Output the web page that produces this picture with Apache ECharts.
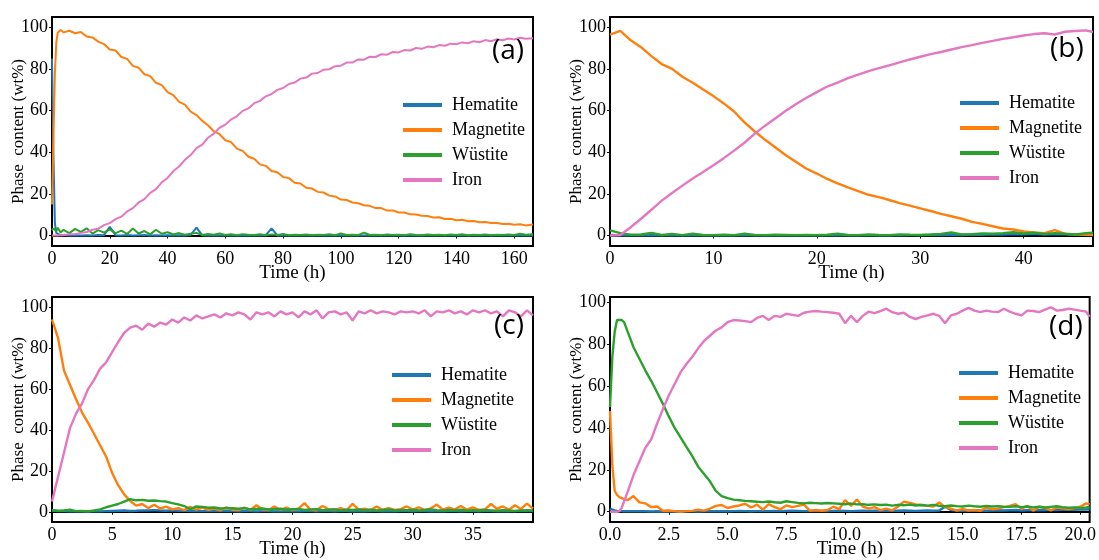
<!DOCTYPE html>
<html>
<head>
<meta charset="utf-8">
<title>Phase content vs time</title>
<script src="https://cdn.jsdelivr.net/npm/echarts@6/dist/echarts.min.js"></script>
<style>
  html, body { margin: 0; padding: 0; background: #fff; }
  #chart { width: 1099px; height: 560px; }
</style>
</head>
<body>
<div id="chart"></div>
<script>
// phases and the matplotlib tab10 colours used for them
var phases = ['Hematite', 'Magnetite', 'Wüstite', 'Iron'];
var colors = ['#1f77b4', '#ff7f0e', '#2ca02c', '#e377c2'];
var panelLabels = ['(a)', '(b)', '(c)', '(d)'];

var yTicks = [0, 20, 40, 60, 80, 100];
var xTicksA = [0, 20, 40, 60, 80, 100, 120, 140, 160];
var xTicksB = [0, 10, 20, 30, 40];
var xTicksC = [0, 5, 10, 15, 20, 25, 30, 35];
var xTicksD = [0, 2.5, 5, 7.5, 10, 12.5, 15, 17.5, 20];

// ---- panel (a) ----
var timeA = [0, 0.5, 1, 1.5, 2, 3, 4, 6, 8, 10,
  12, 14, 16, 18, 20, 22, 24, 26, 28, 30,
  32, 34, 36, 38, 40, 42, 44, 46, 48, 50,
  52, 54, 56, 58, 60, 62, 64, 66, 68, 70,
  72, 74, 76, 78, 80, 82, 84, 86, 88, 90,
  92, 94, 96, 98, 100, 102, 104, 106, 108, 110,
  112, 114, 116, 118, 120, 122, 124, 126, 128, 130,
  132, 134, 136, 138, 140, 142, 144, 146, 148, 150,
  152, 154, 156, 158, 160, 162, 164, 166.5];
var hematiteA = [85, 38, 6, 1.2, 0.5, 0.2, 0.3, 0.1, 0.2, 0.1,
  0.2, 0.1, 0.3, 0.2, 4.2, 0.2, 0.1, 0.3, 0.1, 0.2,
  0.3, 0.1, 0.2, 0.1, 0.2, 0.1, 0.2, 0.1, 0.3, 3.8,
  0.2, 0.1, 0.2, 0.1, 0.2, 0.1, 0.1, 0.2, 0.1, 0.2,
  0.1, 0.2, 3.4, 0.1, 0.2, 0.1, 0.2, 0.1, 0.1, 0.2,
  0.1, 0.2, 0.1, 0.1, 0.2, 0.1, 0.2, 0.1, 0.1, 0.2,
  0.1, 0.1, 0.2, 0.1, 0.1, 0.2, 0.1, 0.1, 0.2, 0.1,
  0.1, 0.2, 0.1, 0.1, 0.2, 0.1, 0.1, 0.2, 0.1, 0.1,
  0.2, 0.1, 0.1, 0.2, 0.1, 0.1, 0.2, 0.1];
var magnetiteA = [15, 48, 78, 93, 97.5, 98.8, 97.6, 98.4, 97.2, 97.8,
  95.6, 95.2, 93.2, 92.0, 89.4, 88.9, 85.8, 84.9, 81.5, 80.6,
  77.5, 76.6, 73.4, 72.3, 68.9, 67.5, 64.2, 62.9, 59.5, 57.9,
  55.1, 53.0, 50.1, 48.7, 45.8, 44.9, 41.8, 40.7, 37.9, 36.9,
  34.2, 33.5, 31.0, 30.4, 28.1, 27.6, 25.4, 25.0, 23.0, 22.6,
  21.0, 20.7, 19.2, 18.8, 17.3, 17.1, 15.9, 15.5, 14.6, 14.3,
  13.2, 13.2, 12.0, 12.1, 11.1, 11.1, 10.2, 10.1, 9.5, 9.4,
  8.7, 8.8, 8.0, 8.1, 7.4, 7.6, 6.9, 7.0, 6.4, 6.5,
  6.0, 6.1, 5.6, 5.7, 5.2, 5.4, 4.9, 5.3];
var wustiteA = [2.5, 3.5, 3, 2, 3.8, 1.5, 2.8, 1.2, 3.2, 1.8,
  3.5, 1.0, 2.6, 1.4, 3.0, 1.2, 2.4, 0.8, 3.4, 1.0,
  2.2, 0.6, 2.8, 0.9, 1.6, 0.5, 1.2, 0.4, 0.9, 1.3,
  0.3, 0.8, 0.4, 1.0, 0.3, 0.6, 0.2, 0.7, 0.4, 0.3,
  0.6, 0.2, 0.5, 0.3, 0.8, 0.2, 0.4, 0.3, 0.5, 0.2,
  0.4, 0.3, 0.6, 0.2, 1.0, 0.3, 0.4, 0.2, 1.4, 0.3,
  0.4, 0.2, 0.5, 0.3, 0.4, 0.2, 0.6, 0.3, 0.2, 0.5,
  0.3, 0.4, 0.2, 0.5, 0.3, 0.6, 0.2, 0.4, 0.3, 0.5,
  0.2, 0.4, 0.3, 0.5, 0.3, 0.9, 0.4, 0.6];
var ironA = [0, 0, 0, 0, 0, 0.2, 0.3, 0.6, 0.7, 1.3,
  1.7, 2.8, 3.3, 5.0, 6.0, 7.9, 9.1, 11.6, 13.2, 15.9,
  17.5, 20.5, 22.3, 25.6, 27.7, 31.0, 33.2, 36.4, 38.7, 42.0,
  43.7, 47.0, 49.0, 51.8, 53.3, 55.8, 57.3, 59.9, 61.1, 63.6,
  64.7, 66.9, 68.0, 70.0, 70.9, 72.8, 73.5, 75.4, 75.9, 77.8,
  78.1, 79.7, 79.9, 81.4, 81.6, 83.1, 83.1, 84.6, 84.5, 85.9,
  85.8, 87.1, 86.9, 88.2, 88.0, 89.1, 88.9, 90.1, 89.7, 90.8,
  90.5, 91.5, 91.2, 92.2, 91.9, 92.8, 92.4, 93.4, 92.9, 93.9,
  93.4, 94.3, 93.8, 94.7, 94.2, 95.0, 94.5, 94.8];

// ---- panel (b) ----
var timeB = [0, 1, 2, 3, 4, 5, 6, 7, 8, 9,
  10, 11, 12, 13, 14, 15, 16, 17, 18, 19,
  20, 21, 22, 23, 24, 25, 26, 27, 28, 29,
  30, 31, 32, 33, 34, 35, 36, 37, 38, 39,
  40, 41, 42, 43, 44, 45, 46, 46.7];
var hematiteB = [0.3, 0.1, 0.2, 0.1, 0.2, 0.1, 0.1, 0.2, 0.1, 0.1,
  0.2, 0.1, 0.1, 0.2, 0.1, 0.2, 0.1, 0.1, 0.2, 0.1,
  0.1, 0.2, 0.1, 0.1, 0.2, 0.1, 0.1, 0.2, 0.1, 0.2,
  0.2, 0.3, 0.2, 0.4, 0.3, 0.5, 0.4, 0.6, 0.5, 0.7,
  0.6, 0.8, 0.5, 0.7, 0.6, 0.4, 0.5, 0.6];
var magnetiteB = [96.5, 98.3, 93.8, 90.5, 86.2, 82.4, 80.1, 76.3, 73.4, 70.2,
  67.0, 63.5, 59.6, 54.4, 50.0, 46.0, 42.3, 38.6, 35.4, 32.1,
  29.8, 27.2, 25.1, 23.2, 21.4, 19.6, 18.5, 17.1, 15.6, 14.4,
  13.1, 11.8, 10.4, 9.3, 8.1, 6.6, 5.6, 4.5, 3.4, 2.9,
  2.0, 1.5, 1.2, 2.6, 0.8, 0.6, 0.4, 0.3];
var wustiteB = [2.5, 1.2, 0.4, 0.5, 1.3, 0.3, 0.8, 0.2, 0.9, 0.3,
  0.2, 0.4, 0.2, 0.9, 0.3, 0.2, 0.4, 0.3, 0.2, 0.3,
  0.2, 0.4, 0.9, 0.3, 0.2, 0.5, 0.3, 0.2, 0.6, 0.4,
  0.3, 0.5, 0.8, 1.5, 0.6, 0.7, 1.0, 0.9, 1.2, 1.6,
  1.0, 1.4, 0.8, 1.2, 0.9, 0.6, 1.1, 1.4];
var ironB = [0, 0.3, 4.0, 8.1, 12.4, 16.8, 20.5, 24.0, 27.4, 30.5,
  33.8, 37.2, 40.8, 44.6, 49.0, 52.8, 56.4, 60.0, 63.2, 66.2,
  68.9, 71.6, 73.5, 75.6, 77.3, 79.0, 80.4, 81.8, 83.2, 84.6,
  85.9, 87.2, 88.2, 89.4, 90.5, 91.5, 92.6, 93.5, 94.5, 95.3,
  96.1, 96.8, 97.2, 96.6, 97.9, 98.3, 98.6, 97.8];

// ---- panel (c) ----
var timeC = [0, 0.5, 1, 1.5, 2, 2.5, 3, 3.5, 4, 4.5,
  5, 5.5, 6, 6.5, 7, 7.5, 8, 8.5, 9, 9.5,
  10, 10.5, 11, 11.5, 12, 12.5, 13, 13.5, 14, 14.5,
  15, 15.5, 16, 16.5, 17, 17.5, 18, 18.5, 19, 19.5,
  20, 20.5, 21, 21.5, 22, 22.5, 23, 23.5, 24, 24.5,
  25, 25.5, 26, 26.5, 27, 27.5, 28, 28.5, 29, 29.5,
  30, 30.5, 31, 31.5, 32, 32.5, 33, 33.5, 34, 34.5,
  35, 35.5, 36, 36.5, 37, 37.5, 38, 38.5, 39, 39.5,
  40];
var hematiteC = [0.6, 0.3, 0.4, 0.2, 0.3, 0.2, 0.1, 0.3, 0.2, 0.3,
  0.4, 0.5, 0.6, 0.4, 0.5, 0.7, 0.6, 0.8, 0.6, 0.5,
  0.7, 0.5, 0.6, 0.4, 0.5, 0.3, 0.4, 0.5, 0.3, 0.4,
  0.3, 0.2, 0.4, 0.3, 0.2, 0.3, 0.4, 0.2, 0.3, 0.2,
  0.3, 0.2, 0.4, 0.3, 0.2, 0.4, 0.3, 0.2, 0.3, 0.4,
  0.2, 0.3, 0.2, 0.4, 0.3, 0.2, 0.3, 0.2, 0.4, 0.3,
  0.2, 0.3, 0.4, 0.2, 0.3, 0.2, 0.3, 0.4, 0.2, 0.3,
  0.3, 0.2, 0.3, 0.4, 0.2, 0.3, 0.2, 0.3, 0.4, 0.3,
  0.3];
var magnetiteC = [94, 85, 69, 62, 55, 48.5, 43.5, 38, 32.5, 27,
  19, 13, 8.5, 5.3, 3, 3.8, 1.8, 3.4, 1.6, 2.5,
  1.2, 1.8, 0.8, 2.4, 1.0, 2.0, 0.9, 1.6, 0.7, 2.2,
  1.0, 0.8, 2.0, 0.9, 3.2, 1.1, 0.8, 2.6, 0.9, 2.0,
  0.8, 1.5, 4.2, 1.0, 0.7, 2.8, 1.2, 0.9, 1.8, 0.8,
  3.9, 1.0, 1.5, 0.8, 2.5, 1.0, 1.8, 0.9, 1.3, 2.6,
  1.1, 2.2, 0.9, 1.6, 3.5, 1.0, 2.0, 1.2, 2.8, 1.0,
  2.1, 0.9, 1.2, 3.8, 1.5, 2.6, 1.0, 3.2, 1.4, 4.0,
  1.5];
var wustiteC = [0.8, 0.5, 0.6, 1.0, 0.3, 0.4, 0.2, 0.6, 1.2, 2.2,
  3.0, 3.8, 5.0, 6.2, 5.6, 5.8, 5.4, 5.5, 5.2, 5.0,
  4.2, 3.6, 2.8, 1.2, 2.6, 2.4, 2.0, 2.1, 1.6, 1.8,
  1.7, 1.5, 1.8, 1.2, 1.4, 1.6, 1.1, 1.3, 1.5, 1.0,
  1.2, 1.4, 0.9, 1.1, 1.3, 0.8, 1.0, 1.2, 0.7, 1.0,
  0.9, 1.1, 0.8, 1.0, 0.6, 0.9, 1.1, 0.7, 0.9, 0.8,
  1.0, 0.7, 0.9, 1.2, 0.8, 0.6, 0.9, 0.7, 1.0, 0.5,
  0.8, 0.6, 0.9, 0.7, 0.5, 0.8, 0.6, 0.4, 0.7, 0.8,
  0.6];
var ironC = [5, 17, 29, 41, 48, 53, 60, 64.5, 70, 73,
  78, 83, 87.5, 90, 91, 89, 92, 90.5, 92.5, 91.5,
  94, 92.5, 95, 93.5, 96, 94.5, 95.5, 96.5, 95, 97,
  96, 97.5, 96.5, 94, 97.5, 96.5, 97.5, 95.5, 98, 96.5,
  97.5, 95, 98, 96.5, 98.5, 94.5, 97.5, 98, 96.5, 97.5,
  93.5, 98, 97, 98.5, 97, 98, 97.5, 96.5, 98, 97.5,
  98, 97, 98.5, 95.5, 98, 97.5, 98.5, 97, 98, 96.5,
  98.5, 97.5, 98.5, 97, 98, 95.5, 98.5, 97.5, 95.5, 98.5,
  96];

// ---- panel (d) ----
var timeD = [0, 0.1, 0.2, 0.3, 0.4, 0.5, 0.6, 0.75, 1.0, 1.25,
  1.5, 1.75, 2.0, 2.25, 2.5, 2.75, 3.0, 3.25, 3.5, 3.75,
  4.0, 4.25, 4.5, 4.75, 5.0, 5.25, 5.5, 5.75, 6.0, 6.25,
  6.5, 6.75, 7.0, 7.25, 7.5, 7.75, 8.0, 8.25, 8.5, 8.75,
  9.0, 9.25, 9.5, 9.75, 10.0, 10.25, 10.5, 10.75, 11.0, 11.25,
  11.5, 11.75, 12.0, 12.25, 12.5, 12.75, 13.0, 13.25, 13.5, 13.75,
  14.0, 14.25, 14.5, 14.75, 15.0, 15.25, 15.5, 15.75, 16.0, 16.25,
  16.5, 16.75, 17.0, 17.25, 17.5, 17.75, 18.0, 18.25, 18.5, 18.75,
  19.0, 19.25, 19.5, 19.75, 20.0, 20.25, 20.4];
var hematiteD = [1.5, 1.0, 0.6, 0.4, 0.3, 0.3, 0.2, 0.2, 0.3, 0.2,
  0.2, 0.1, 0.2, 0.1, 0.1, 0.2, 0.1, 0.2, 0.2, 0.1,
  0.2, 0.3, 0.2, 0.3, 0.2, 0.3, 0.4, 0.3, 0.2, 0.3,
  0.4, 0.3, 0.4, 0.3, 0.4, 0.5, 0.4, 0.3, 0.4, 0.3,
  0.4, 0.3, 0.4, 0.5, 0.4, 0.3, 0.4, 0.5, 0.4, 0.5,
  0.4, 0.5, 0.4, 0.5, 0.6, 0.5, 0.4, 0.5, 0.6, 0.5,
  0.6, 2.4, 0.8, 0.6, 0.5, 0.6, 0.7, 0.6, 0.5, 0.6,
  0.7, 0.6, 0.7, 0.8, 0.6, 0.7, 0.8, 0.7, 0.8, 0.9,
  0.8, 0.9, 1.0, 0.9, 1.0, 1.1, 1.2];
var magnetiteD = [48, 22, 10, 8, 7, 6.5, 6, 5.5, 7.5, 4.5,
  4, 2.2, 2.5, 0.5, 0.6, 0.3, 0, 0.3, 0.4, 1,
  0.5, 1.5, 2.8, 3.2, 1.8, 2.5, 3, 3.8, 2, 3.4,
  1, 3.6, 2.2, 1.2, 3, 2.2, 2.8, 3.4, 0.5, 0.8,
  0.5, 0.8, 2.4, 1.2, 5.5, 2.8, 5.8, 2.5, 1.5, 2.2,
  0.8, 1.5, 0.6, 2.5, 4.8, 4.2, 3.5, 3.2, 2.8, 2.5,
  4.4, 2.2, 1.5, 0.5, 1.3, 0.6, 0.8, 0.4, 2, 1.2,
  1.5, 2.2, 2.8, 3.6, 1.5, 2.8, 0.5, 2.4, 1.8, 0.6,
  2, 1.6, 1.3, 1.8, 2.4, 4, 3.5];
var wustiteD = [50, 74, 86, 91.5, 91.5, 91.5, 90.5, 86, 78.5, 73,
  67.5, 62.5, 57, 51.5, 45.5, 40, 35.5, 31, 26.5, 21.5,
  18, 14.5, 10, 7.5, 6.5, 5.8, 5.5, 5.2, 5.0, 4.8,
  4.6, 4.9, 4.5, 4.3, 5.0, 4.6, 4.2, 4.0, 4.3, 4.1,
  3.9, 4.2, 4.0, 3.8, 3.6, 3.9, 3.5, 3.6, 3.3, 3.5,
  3.2, 3.4, 2.9, 3.3, 3.1, 3.4, 3.0, 3.2, 2.9, 3.3,
  2.8, 2.6, 3.0, 2.7, 2.5, 2.9, 2.6, 2.4, 2.8, 2.5,
  2.7, 2.4, 2.3, 2.6, 2.2, 2.5, 2.1, 2.4, 2.0, 2.3,
  2.6, 2.2, 1.9, 2.1, 1.8, 2.0, 2.3];
var ironD = [0, 0, 0, 0, 0.3, 2, 5, 9.5, 17.5, 24,
  30.5, 34.5, 42, 49, 55.5, 61, 66.5, 70.5, 74, 78,
  81.5, 84, 86.5, 88, 90.5, 91.5, 91.3, 91, 90.5, 92.5,
  93.5, 91.5, 93.5, 93, 94.5, 94, 93.5, 95, 95.5, 95.8,
  95.5, 95.3, 95, 94.5, 90, 93.5, 90.5, 93.5, 95.5, 94.8,
  95.8, 96.9, 95.3, 94.5, 95, 93, 92, 93, 93.7, 94.5,
  93.5, 90, 93.7, 94.5, 96, 97.3, 96, 95.3, 96, 95.5,
  95.3, 96.9, 95.5, 94.5, 93.7, 96, 95.8, 95.3, 96.5, 97.6,
  96, 96.3, 96.9, 96.5, 96, 95.5, 93];

var panels = [
  { time: timeA, values: [hematiteA, magnetiteA, wustiteA, ironA], xMax: 166.5, xTicks: xTicksA, yMin: -5, yMax: 105, digits: 0 },
  { time: timeB, values: [hematiteB, magnetiteB, wustiteB, ironB], xMax: 46.7, xTicks: xTicksB, yMin: -5, yMax: 105, digits: 0 },
  { time: timeC, values: [hematiteC, magnetiteC, wustiteC, ironC], xMax: 40, xTicks: xTicksC, yMin: -5, yMax: 105, digits: 0 },
  { time: timeD, values: [hematiteD, magnetiteD, wustiteD, ironD], xMax: 20.4, xTicks: xTicksD, yMin: -4.9, yMax: 102.5, digits: 1 }
];

// pixel layout of the four panels
var layout = [
  { left: 52, top: 17, width: 481, legendLeft: 403, legendTop: 96, labelLeft: 492, labelTop: 37 },
  { left: 610, top: 17, width: 483, legendLeft: 960, legendTop: 94, labelLeft: 1050, labelTop: 35 },
  { left: 52, top: 297, width: 481, legendLeft: 392, legendTop: 366, labelLeft: 494, labelTop: 312 },
  { left: 610, top: 297, width: 483, legendLeft: 959, legendTop: 364, labelLeft: 1049, labelTop: 313 }
];
var plotHeight = 229;
var serif = 'Liberation Serif';

function pairs(t, v) {
  return t.map(function (x, i) { return [x, v[i]]; });
}

var grids = [], xAxes = [], yAxes = [], legends = [], titles = [], series = [];

panels.forEach(function (p, i) {
  var l = layout[i];
  grids.push({
    left: l.left, top: l.top, width: l.width, height: plotHeight,
    show: true, borderColor: '#000', borderWidth: 2, backgroundColor: 'transparent'
  });
  xAxes.push({
    gridIndex: i,
    type: 'value',
    min: 0,
    max: p.xMax,
    name: 'Time (h)',
    nameLocation: 'middle',
    nameGap: 18,
    nameMoveOverlap: false,
    nameTextStyle: { fontFamily: serif, fontSize: 19, color: '#000' },
    axisLine: { show: true, lineStyle: { color: '#000', width: 2 } },
    axisTick: { show: true, length: 3, customValues: p.xTicks, lineStyle: { color: '#000' } },
    axisLabel: {
      customValues: p.xTicks,
      margin: 4,
      fontFamily: serif,
      fontSize: 18,
      color: '#000',
      formatter: function (v) { return v.toFixed(p.digits); }
    },
    splitLine: { show: false }
  });
  yAxes.push({
    gridIndex: i,
    type: 'value',
    min: p.yMin,
    max: p.yMax,
    name: 'Phase  content (wt%)',
    nameLocation: 'middle',
    nameGap: 25,
    nameMoveOverlap: false,
    nameTextStyle: { fontFamily: serif, fontSize: 17, color: '#000' },
    axisLine: { show: true, lineStyle: { color: '#000', width: 2 } },
    axisTick: { show: true, length: 3, customValues: yTicks, lineStyle: { color: '#000' } },
    axisLabel: { customValues: yTicks, margin: 4, fontFamily: serif, fontSize: 18, color: '#000' },
    splitLine: { show: false }
  });
  legends.push({
    data: phases,
    orient: 'vertical',
    left: l.legendLeft,
    top: l.legendTop,
    padding: 0,
    icon: 'rect',
    itemWidth: 39,
    itemHeight: 4,
    itemGap: 7,
    selectedMode: false,
    textStyle: { fontFamily: serif, fontSize: 18, lineHeight: 18, color: '#000', padding: [0, 0, 0, 5] }
  });
  titles.push({
    text: panelLabels[i],
    left: l.labelLeft,
    top: l.labelTop,
    padding: 0,
    textStyle: { fontFamily: 'Open Sans', fontSize: 28, fontWeight: 'normal', color: '#000' }
  });
  phases.forEach(function (name, k) {
    series.push({
      type: 'line',
      name: name,
      xAxisIndex: i,
      yAxisIndex: i,
      data: pairs(p.time, p.values[k]),
      showSymbol: false,
      symbol: 'none',
      clip: true,
      lineStyle: { width: i === 0 ? 2 : 2.4, color: colors[k] },
      itemStyle: { color: colors[k] }
    });
  });
});

var chart = echarts.init(document.getElementById('chart'));
chart.setOption({
  animation: false,
  color: colors,
  title: titles,
  grid: grids,
  xAxis: xAxes,
  yAxis: yAxes,
  legend: legends,
  series: series
});
</script>
</body>
</html>
